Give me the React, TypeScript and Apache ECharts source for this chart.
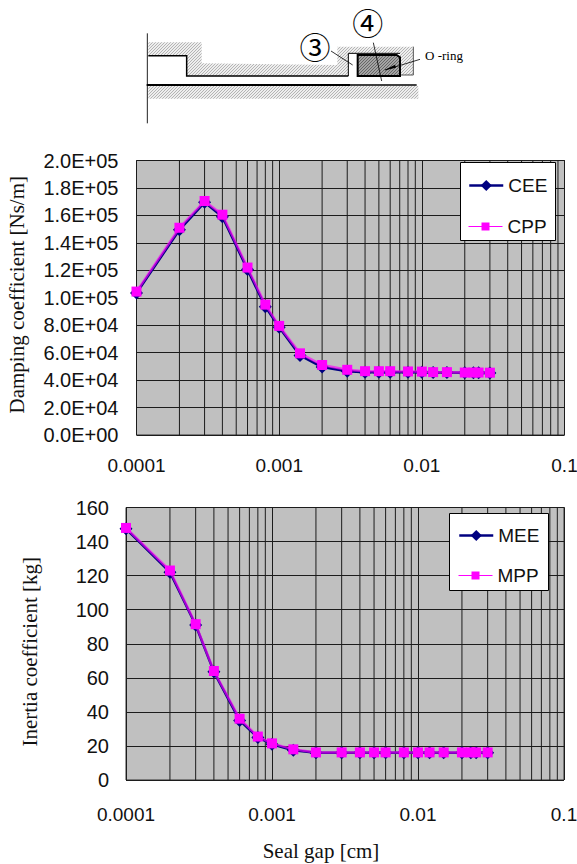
import React, { useEffect, useRef } from "react";
import * as echarts from "echarts";

const gaps = [0.0001, 0.0002, 0.0003, 0.0004, 0.0006, 0.0008, 0.001, 0.0014, 0.002, 0.003, 0.004, 0.005, 0.006, 0.008, 0.01, 0.012, 0.015, 0.02, 0.023, 0.025, 0.03];
const cee = [103500, 149500, 169500, 159000, 120500, 93500, 78500, 58000, 49500, 46500, 45800, 45800, 45800, 45800, 45700, 45500, 45500, 45300, 45300, 45300, 45200];
const cpp = [104500, 151000, 170500, 160500, 122000, 95000, 79500, 59500, 51000, 47500, 46500, 46500, 46500, 46300, 46200, 45800, 45800, 45500, 45500, 45500, 45400];
const mee = [147.5, 122, 91, 63.5, 35, 25, 21, 17.5, 16, 16, 16, 16, 16, 16, 16, 16, 16, 16, 16, 16, 16];
const mpp = [148, 123, 91.5, 64, 36, 25.5, 21.5, 18, 16.2, 16.2, 16.2, 16.2, 16.2, 16.2, 16.2, 16.2, 16.2, 16.2, 16.2, 16.2, 16.2];
const minorGridValues = [
  0.0002, 0.0003, 0.0004, 0.0005, 0.0006, 0.0007, 0.0008, 0.0009,
  0.002, 0.003, 0.004, 0.005, 0.006, 0.007, 0.008, 0.009,
  0.02, 0.03, 0.04, 0.05, 0.06, 0.07, 0.08, 0.09,
];

const SANS = "'Liberation Sans', Arial, sans-serif";
const SERIF = "'Liberation Serif', 'Times New Roman', serif";
const NAVY = "#000080";
const MAGENTA = "#ff00ff";
const GRID = "#1c1c1c";

function hatch(): HTMLCanvasElement {
  const c = document.createElement("canvas");
  c.width = 3;
  c.height = 3;
  const g = c.getContext("2d")!;
  g.fillStyle = "#eeeeee";
  g.fillRect(0, 0, 3, 3);
  g.strokeStyle = "#a4a4a4";
  g.lineWidth = 0.8;
  g.beginPath();
  g.moveTo(0, 3);
  g.lineTo(3, 0);
  g.moveTo(-1, 1);
  g.lineTo(1, -1);
  g.moveTo(2, 4);
  g.lineTo(4, 2);
  g.stroke();
  return c;
}

function speckle(): HTMLCanvasElement {
  const c = document.createElement("canvas");
  c.width = 3;
  c.height = 3;
  const g = c.getContext("2d")!;
  g.fillStyle = "#a4a4a4";
  g.fillRect(0, 0, 3, 3);
  g.fillStyle = "#666666";
  g.fillRect(0, 0, 1, 1);
  g.fillRect(2, 1, 1, 1);
  g.fillRect(1, 2, 1, 1);
  return c;
}

// zoomed-crop coordinates of the seal sketch → page coordinates
const P = (x: number, y: number): number[] => [130 + x / 3, y / 3];

function sketch(): any[] {
  const hatchFill: any = { image: hatch(), repeat: "repeat" };
  const ringFill: any = { image: speckle(), repeat: "repeat" };
  const line = (pts: number[][], w: number, color = "#000") => ({
    type: "polyline",
    shape: { points: pts.map((p) => P(p[0], p[1])) },
    style: { stroke: color, lineWidth: w, fill: "none" },
    silent: true,
  });
  return [
    { type: "polygon", shape: { points: [[55, 127], [215, 127], [215, 190], [622, 195], [622, 140], [850, 140], [850, 225], [810, 225], [810, 160], [655, 160], [655, 228], [170, 228], [170, 167], [55, 167]].map((p) => P(p[0], p[1])) }, style: { fill: hatchFill } },
    { type: "polygon", shape: { points: [[55, 258], [865, 258], [865, 296], [55, 296]].map((p) => P(p[0], p[1])) }, style: { fill: hatchFill } },
    line([[52, 100], [52, 370]], 1, "#222"),
    line([[55, 167], [170, 167], [170, 228], [655, 228]], 1.5),
    line([[655, 228], [655, 160], [810, 160]], 1),
    line([[810, 225], [850, 225], [850, 140]], 1, "#555"),
    line([[50, 255], [662, 255]], 2),
    line([[662, 255], [860, 255]], 1.5),
    { type: "polygon", shape: { points: [[683, 165], [800, 165], [810, 172], [810, 228], [683, 228]].map((p) => P(p[0], p[1])) }, style: { fill: ringFill, stroke: "#000", lineWidth: 2 } },
    line([[603, 153], [668, 195]], 0.8),
    line([[730, 128], [755, 243]], 0.8),
    line([[870, 178], [765, 210]], 0.8),
    { type: "polygon", shape: { points: [[762, 211], [795, 194], [798, 203]].map((p) => P(p[0], p[1])) }, style: { fill: "#000" } },
    { type: "text", x: 130 + 555 / 3, y: 137 / 3, style: { text: "③", font: "31px 'Noto Sans CJK JP'", fill: "#000", align: "center", verticalAlign: "middle" } },
    { type: "text", x: 130 + 713 / 3, y: 65 / 3, style: { text: "④", font: "31px 'Noto Sans CJK JP'", fill: "#000", align: "center", verticalAlign: "middle" } },
    { type: "text", x: 130 + 885 / 3, y: 167 / 3, style: { text: "O -ring", font: `13px ${SERIF}`, fill: "#000", align: "left", verticalAlign: "middle" } },
  ];
}

const yExp = (v: number) => {
  if (v === 0) return "0.0E+00";
  const [m, e] = v.toExponential(1).split("e+");
  return `${m}E+${e.padStart(2, "0")}`;
};

const xLabel = (v: number) => String(parseFloat(v.toPrecision(1)));

function xAxis(gridIndex: number, margin: number, extra: any = {}) {
  return {
    type: "log",
    logBase: 10,
    gridIndex,
    min: 0.0001,
    max: 0.1,
    axisLine: { show: false },
    axisTick: { show: false },
    axisLabel: { formatter: xLabel, color: "#111", fontFamily: SANS, fontSize: 19, margin, hideOverlap: false, showMinLabel: true, showMaxLabel: true },
    splitLine: { show: true, lineStyle: { color: GRID, width: 1 } },
    minorSplitLine: { show: false },
    ...extra,
  };
}

function yAxis(gridIndex: number, max: number, interval: number, formatter: any, margin: number, name: string, nameGap: number, namePadding: number[], labelPad: number) {
  return {
    type: "value",
    gridIndex,
    min: 0,
    max,
    interval,
    name,
    nameLocation: "middle",
    nameGap,
    nameTextStyle: { fontFamily: SERIF, fontSize: 21, color: "#111", padding: namePadding },
    axisLine: { show: false },
    axisTick: { show: false },
    axisLabel: { formatter, color: "#111", fontFamily: SANS, fontSize: 20, margin, padding: [labelPad, 0, 0, 0] },
    splitLine: { show: true, lineStyle: { color: GRID, width: 1 } },
  };
}

function gridLines(idx: number, yMax: number) {
  return {
    name: `minor-grid-${idx}`,
    type: "custom",
    xAxisIndex: idx,
    yAxisIndex: idx,
    z: 1,
    silent: true,
    clip: false,
    data: minorGridValues.map((v) => [v, yMax]),
    encode: { x: 0, y: 1 },
    renderItem: (_p: any, api: any) => {
      const a = api.coord([api.value(0), 0]);
      const b = api.coord([api.value(0), yMax]);
      return {
        type: "line",
        shape: { x1: a[0], y1: a[1], x2: b[0], y2: b[1] },
        style: { stroke: GRID, lineWidth: 1, fill: "none" },
      };
    },
  };
}

function eeSeries(name: string, vals: number[], idx: number) {
  return {
    name,
    type: "line",
    xAxisIndex: idx,
    yAxisIndex: idx,
    z: 3,
    data: gaps.map((g, i) => [g, vals[i]]),
    symbol: "diamond",
    symbolSize: 13,
    itemStyle: { color: NAVY },
    lineStyle: { color: NAVY, width: 2.5 },
  };
}

function ppSeries(name: string, vals: number[], idx: number) {
  return {
    name,
    type: "line",
    xAxisIndex: idx,
    yAxisIndex: idx,
    z: 4,
    data: gaps.map((g, i) => [g, vals[i]]),
    symbol: "rect",
    symbolSize: 10,
    itemStyle: { color: MAGENTA },
    lineStyle: { color: MAGENTA, width: 2.5, opacity: 0.65 },
  };
}

function legendItem(name: string, left: number, top: number, itemHeight: number, lineWidth: number) {
  return {
    data: [name],
    orient: "vertical",
    left,
    top,
    padding: 0,
    itemWidth: 34,
    itemHeight,
    z: 12,
    selectedMode: false,
    lineStyle: { width: lineWidth, opacity: 1 },
    textStyle: { fontFamily: SANS, fontSize: 19, color: "#111" },
  };
}

const legendBox = (x: number, y: number, w: number, h: number) => ({
  type: "rect",
  shape: { x, y, width: w, height: h },
  style: { fill: "#fff", stroke: "#000", lineWidth: 1 },
  z: 8,
  silent: true,
});

export default function App() {
  const ref = useRef<HTMLDivElement>(null);
  useEffect(() => {
    const chart = echarts.init(ref.current!, undefined, { renderer: "svg" });
    chart.setOption({
      animation: false,
      backgroundColor: "#fff",
      grid: [
        { left: 136.5, top: 160.5, width: 428, height: 274.5, show: true, outerBoundsMode: "none", containLabel: false, backgroundColor: "#c0c0c0", borderColor: "#333", borderWidth: 1 },
        { left: 126, top: 507.5, width: 438, height: 272.5, show: true, outerBoundsMode: "none", containLabel: false, backgroundColor: "#c0c0c0", borderColor: "#333", borderWidth: 1 },
      ],
      xAxis: [
        xAxis(0, 21),
        xAxis(1, 25, {
          name: "Seal gap [cm]",
          nameLocation: "middle",
          nameGap: 60,
          nameTextStyle: { fontFamily: SERIF, fontSize: 21, color: "#111", padding: [0, 48, 0, 0] },
        }),
      ],
      yAxis: [
        yAxis(0, 200000, 20000, yExp, 18, "Damping coefficient [Ns/m]", 109, [0, 0, 0, 6], 7),
        yAxis(1, 160, 20, (v: number) => String(v), 17, "Inertia coefficient [kg]", 86, [0, 16, 0, 0], 9),
      ],
      legend: [
        legendItem("CEE", 468, 176, 14, 2.5),
        legendItem("CPP", 468, 217, 10, 1),
        legendItem("MEE", 458, 526, 14, 2.5),
        legendItem("MPP", 458, 566, 10, 1),
      ],
      series: [
        gridLines(0, 200000),
        gridLines(1, 160),
        eeSeries("CEE", cee, 0),
        ppSeries("CPP", cpp, 0),
        eeSeries("MEE", mee, 1),
        ppSeries("MPP", mpp, 1),
      ],
      graphic: {
        elements: [
          { type: "group", silent: true, children: sketch() },
          legendBox(460.5, 162.5, 95, 78),
          legendBox(449.5, 513.5, 99, 77),
        ],
      },
    });
    return () => chart.dispose();
  }, []);
  return <div ref={ref} style={{ position: "fixed", left: 0, top: 0, width: 577, height: 864 }} />;
}
